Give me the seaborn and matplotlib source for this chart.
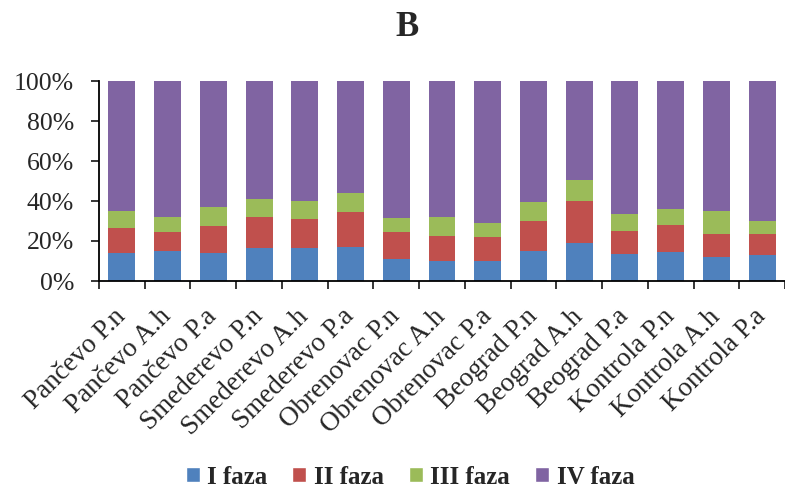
import matplotlib
matplotlib.use("Agg")
import matplotlib.pyplot as plt
import seaborn as sns
import pandas as pd
from matplotlib.patches import Patch

sites = ["Pančevo P.n", "Pančevo A.h", "Pančevo P.a",
         "Smederevo P.n", "Smederevo A.h", "Smederevo P.a",
         "Obrenovac P.n", "Obrenovac A.h", "Obrenovac P.a",
         "Beograd P.n", "Beograd A.h", "Beograd P.a",
         "Kontrola P.n", "Kontrola A.h", "Kontrola P.a"]

faza_1 = [14.2, 15.2, 14.2, 16.7, 16.7, 16.9, 11.2, 10.2, 10.2, 15.2, 19.2, 13.5, 14.4, 12.0, 13.0]
faza_2 = [12.3, 9.3, 13.5, 15.3, 14.5, 17.5, 13.3, 12.3, 11.8, 14.8, 20.6, 11.4, 13.5, 11.7, 10.5]
faza_3 = [8.4, 7.5, 9.2, 9.0, 8.7, 9.4, 7.0, 9.4, 6.9, 9.6, 10.6, 8.5, 8.0, 11.2, 6.4]
faza_4 = [65.1, 68.0, 63.1, 59.0, 60.1, 56.2, 68.5, 68.1, 71.1, 60.4, 49.6, 66.6, 64.1, 65.1, 70.1]

phases = ["I faza", "II faza", "III faza", "IV faza"]
colors = ["#4F81BD", "#C0504D", "#9BBB59", "#8064A2"]

sns.set_style("white")
plt.rcParams["font.family"] = ["Liberation Serif", "DejaVu Serif"]

df = pd.DataFrame({"site": sites, "I faza": faza_1, "II faza": faza_2,
                   "III faza": faza_3, "IV faza": faza_4})
cum = df[phases].cumsum(axis=1)
cum = cum.div(cum["IV faza"], axis=0) * 100
cum["site"] = sites

fig = plt.figure(figsize=(7.85, 4.87), dpi=100)
W, H = 785, 487
ax = fig.add_axes([99 / W, 1 - 281 / H, (785 - 99) / W, 200 / H])

# stacked bars: draw cumulative totals from the top phase down
for phase, color in zip(phases[::-1], colors[::-1]):
    sns.barplot(data=cum, x="site", y=phase, color=color, width=0.59,
                saturation=1, ax=ax, linewidth=0)

ax.set_xlim(-0.5, 14.44)
ax.set_ylim(0, 100)
ax.set_yticks([0, 20, 40, 60, 80, 100])
ax.set_yticklabels([f"{v}%" for v in range(0, 101, 20)])
ax.set_xlabel("")
ax.set_ylabel("")

for s in ["top", "right"]:
    ax.spines[s].set_visible(False)
for s in ["left", "bottom"]:
    ax.spines[s].set_color("black")
    ax.spines[s].set_linewidth(1.3)

ax.tick_params(axis="y", direction="out", length=6, width=1.3,
               labelsize=18.5, pad=12, left=True)
ax.set_xticks([i + 0.5 for i in range(-1, 15)], minor=True)
ax.tick_params(axis="x", which="minor", direction="out", length=6,
               width=1.3, bottom=True)
ax.tick_params(axis="x", which="major", length=0, pad=23, labelsize=19.5)
plt.setp(ax.get_xticklabels(), rotation=45, ha="right", va="center",
         rotation_mode="anchor")

fig.text(407 / W, 1 - 28 / H, "B", ha="center", va="center",
         fontsize=25, fontweight="bold")

handles = [Patch(facecolor=c, label=p) for p, c in zip(phases, colors)]
fig.legend(handles=handles, loc="center", ncol=4, frameon=False,
           bbox_to_anchor=(410 / W, 1 - 477 / H),
           prop={"weight": "bold", "size": 18},
           handlelength=0.56, handleheight=0.56, handletextpad=0.3,
           columnspacing=1.0)

fig.savefig("out.png", dpi=100)
